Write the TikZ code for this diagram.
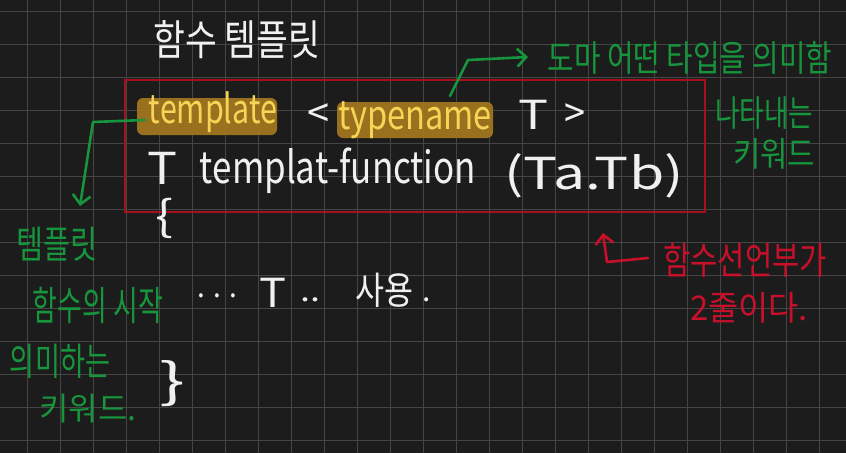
\documentclass[tikz,border=0pt]{standalone}
\usepackage{fontspec}
\setmainfont{Noto Sans CJK KR}
\usetikzlibrary{arrows.meta}

\definecolor{board}{HTML}{1C1C1C}
\definecolor{gridline}{HTML}{454545}
\definecolor{chalk}{HTML}{F0F0F0}
\definecolor{marker}{HTML}{F6D456}
\definecolor{glow}{HTML}{A4791F}
\definecolor{pen}{HTML}{17953D}
\definecolor{ink}{HTML}{C8102A}
\definecolor{frame}{HTML}{A5101F}

% squeeze or stretch a text horizontally to a given width
\newcommand\fitw[2]{\resizebox{#1}{\height}{#2}}
\newcommand\fs[1]{\fontsize{#1}{#1}\selectfont}

\begin{document}
\begin{tikzpicture}[x=1pt,y=-1pt,
  every node/.style={inner sep=0pt,outer sep=0pt},
  chalktext/.style={text=chalk},
  codeword/.style={text=marker},
  hilite/.style={fill=glow,opacity=.92,rounded corners=6pt},
  greennote/.style={text=pen},
  rednote/.style={text=ink},
  greenarrow/.style={draw=pen,line width=2.6pt,line cap=round,line join=round,
    -{Straight Barb[length=9pt,width=18pt,line width=2.6pt]}},
  redarrow/.style={draw=ink,line width=2.6pt,line cap=round,line join=round,
    -{Straight Barb[length=9pt,width=18pt,line width=2.6pt]}},
  declframe/.style={draw=frame,line width=2.4pt}]

% board and grid
\fill[board] (0,0) rectangle (846,453);
\useasboundingbox (0,0) rectangle (846,453);
\foreach \i in {0,...,24}
  \draw[gridline,line width=1.1pt] ({27.3+33*\i},0) -- ({27.3+33*\i},453);
\foreach \j in {0,...,13}
  \draw[gridline,line width=1.1pt] (0,{11.3+33*\j}) -- (846,{11.3+33*\j});

% heading
\node[chalktext,font=\fs{42}] (title) at (237,40) {\fitw{167pt}{함수 템플릿}};

% declaration frame
\node[declframe,minimum width=580pt,minimum height=132pt] (decl) at (415,146) {};

% first line: template <typename T>
\node[hilite,minimum width=140pt,minimum height=37pt] (hlA) at (207,116.5) {};
\node[hilite,minimum width=156pt,minimum height=36pt] (hlB) at (415,120) {};
\node[codeword,font=\fs{40}] (kwTemplate) at (213,112.5) {\fitw{128pt}{template}};
\node[chalktext,font=\fs{40}] (lt) at (318,116) {\fitw{22pt}{<}};
\node[codeword,font=\fs{40}] (kwTypename) at (415,120) {\fitw{154pt}{typename}};
\node[chalktext,font=\fs{40}] (tparam) at (533,115) {\fitw{30pt}{T}};
\node[chalktext,font=\fs{40}] (gt) at (575,116) {\fitw{21pt}{>}};

% second line: return type, name, parameters
\node[chalktext,font=\fs{44}] (rettype) at (162,168) {\fitw{30pt}{T}};
\node[chalktext,font=\fs{44}] (fname) at (338,171) {\fitw{276pt}{templat-function}};
\node[chalktext,font=\fs{44}] (params) at (594,176) {\fitw{179pt}{(Ta.Tb)}};

% body
\node[chalktext,font=\fs{42}] (open) at (164,218) {\fitw{18pt}{\{}};
\node[chalktext,font=\fs{30}] (dots) at (217,296) {\fitw{40pt}{. . .}};
\node[chalktext,font=\fs{40}] (useT) at (273,293) {\fitw{27pt}{T}};
\node[chalktext,font=\fs{30}] (dots2) at (310,300) {\fitw{20pt}{..}};
\node[chalktext,font=\fs{38}] (use) at (384,290) {\fitw{58pt}{사용}};
\node[chalktext,font=\fs{30}] (stop) at (427,300) {.};
\node[chalktext,font=\fs{48}] (close) at (172,384) {\fitw{26pt}{\}}};

% note on typename
\node[greennote,font=\fs{36}] (noteType) at (690,58) {\fitw{285pt}{도마 어떤 타입을 의미함}};
\node[greennote,font=\fs{36}] (noteType2) at (764,113) {\fitw{98pt}{나타내는}};
\node[greennote,font=\fs{34}] (noteType3) at (774,154) {\fitw{82pt}{키워드}};
\coordinate (tyFrom) at (450,96);
\coordinate (tyBend) at (468,60);
\coordinate (tyTo) at (528,57);
\draw[greenarrow] (tyFrom) -- (tyBend) -- (tyTo);

% note on template
\node[greennote,font=\fs{38}] (noteTpl1) at (57,244) {\fitw{81pt}{템플릿}};
\node[greennote,font=\fs{40}] (noteTpl2) at (98,305) {\fitw{130pt}{함수의 시작}};
\node[greennote,font=\fs{38}] (noteTpl3) at (60,361) {\fitw{100pt}{의미하는}};
\node[greennote,font=\fs{32}] (noteTpl4) at (88,409) {\fitw{97pt}{키워드.}};
\coordinate (tpFrom) at (145,120);
\coordinate (tpBend) at (93,122);
\coordinate (tpTo) at (80,206);
\draw[greenarrow] (tpFrom) -- (tpBend) -- (tpTo);

% note on the declaration
\node[rednote,font=\fs{38}] (noteDecl1) at (745,260) {\fitw{164pt}{함수선언부가}};
\node[rednote,font=\fs{34}] (noteDecl2) at (749,308) {\fitw{118pt}{2줄이다.}};
\coordinate (dcFrom) at (648,258);
\coordinate (dcBend) at (607,262);
\coordinate (dcTo) at (603,233);
\draw[redarrow] (dcFrom) -- (dcBend) -- (dcTo);

\end{tikzpicture}
\end{document}
